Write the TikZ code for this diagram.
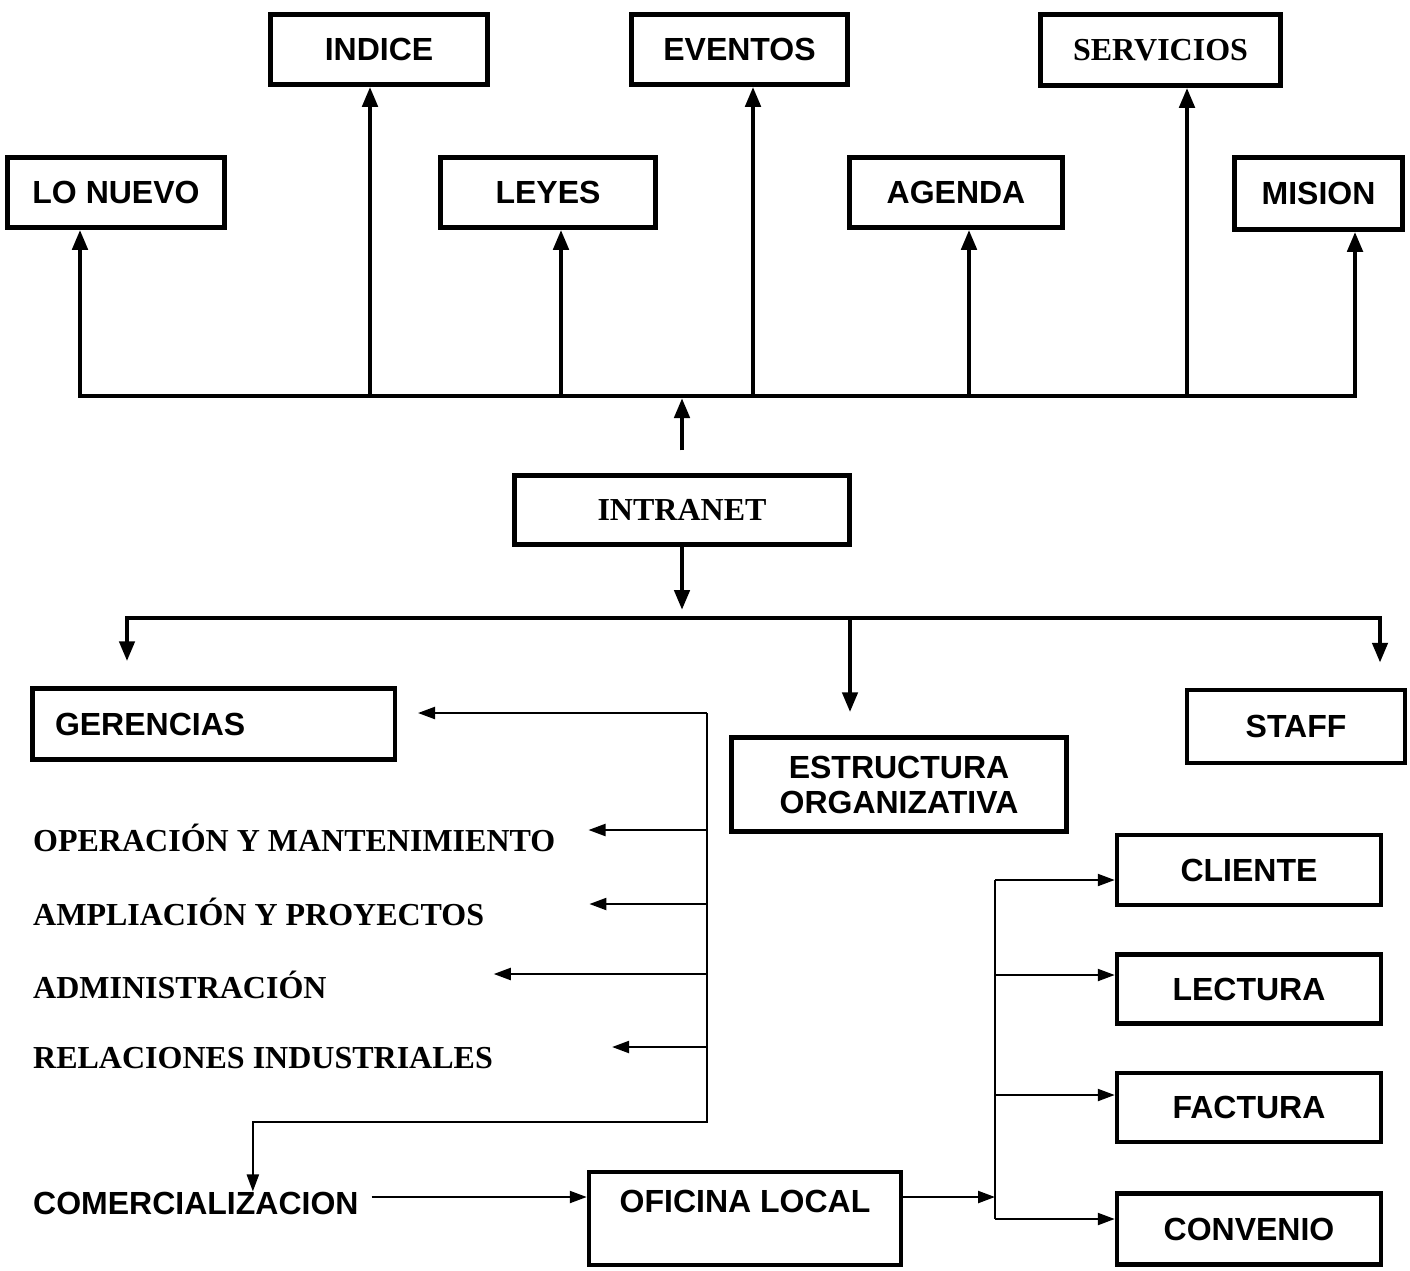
\documentclass[tikz,border=0pt]{standalone}
\usepackage{fontspec}
\setmainfont{Liberation Serif}
\setsansfont{Liberation Sans}
\usepackage{tikz}
\usetikzlibrary{arrows.meta, positioning}

\begin{document}
\begin{tikzpicture}[x=1pt, y=-1pt]
\tikzstyle{box} = [rectangle, draw, line width=4.5pt, inner sep=0pt, align=center, font=\sffamily\bfseries\fontsize{32}{35}\selectfont]
\tikzstyle{rmbox} = [box, font=\rmfamily\bfseries\fontsize{32}{36}\selectfont]
\tikzstyle{item} = [anchor=west, inner sep=0pt, font=\rmfamily\bfseries\fontsize{32}{36}\selectfont]
\tikzstyle{bus} = [line width=4.5pt, line cap=rect]
\tikzstyle{heavy} = [line width=4.5pt, -{Triangle[length=20pt, width=15pt]}]
\tikzstyle{link} = [line width=2.2pt]
\tikzstyle{linkarrow} = [link, -{Triangle[length=17pt, width=12pt]}]

\useasboundingbox (0,0) rectangle (1410,1270);

% upper row
\node (indice) [box, minimum width=217pt, minimum height=70pt] at (379,49.5) {INDICE};
\node (eventos) [box, minimum width=216pt, minimum height=70pt] at (739.5,49.5) {EVENTOS};
\node (servicios) [rmbox, minimum width=240pt, minimum height=71pt] at (1160.5,50) {SERVICIOS};
\node (lonuevo) [box, minimum width=217pt, minimum height=70pt] at (116,192.5) {LO NUEVO};
\node (leyes) [box, minimum width=215pt, minimum height=70pt] at (548,192.5) {LEYES};
\node (agenda) [box, minimum width=213pt, minimum height=70pt] at (956,192.5) {AGENDA};
\node (mision) [box, minimum width=168pt, minimum height=72pt] at (1318.5,193.5) {MISION};

\node (intranet) [rmbox, minimum width=335pt, minimum height=69pt] at (682,510) {INTRANET};

% lower part
\node (gerencias) [box, align=left, text width=317pt, inner xsep=22.75pt, minimum height=71pt] at (213.5,724) {GERENCIAS};
\node (estructura) [box, minimum width=335pt, minimum height=94pt] at (899,784.5) {ESTRUCTURA\\ORGANIZATIVA};
\node (staff) [box, minimum width=218pt, minimum height=73pt] at (1296,726.5) {STAFF};
\node (cliente) [box, minimum width=264pt, minimum height=70pt] at (1249,870) {CLIENTE};
\node (lectura) [box, minimum width=264pt, minimum height=69pt, below=45pt of cliente] {LECTURA};
\node (factura) [box, minimum width=264pt, minimum height=69pt, below=45pt of lectura] {FACTURA};
\node (convenio) [box, minimum width=264pt, minimum height=71pt, below=47pt of factura] {CONVENIO};
\node (oficina) [box, minimum width=312pt, minimum height=93pt, text depth=34pt] at (745,1218.5) {OFICINA LOCAL};

\node (operacion) [item] at (33,838) {OPERACIÓN Y MANTENIMIENTO};
\node (ampliacion) [item] at (33,912) {AMPLIACIÓN Y PROYECTOS};
\node (administracion) [item] at (33,985) {ADMINISTRACIÓN};
\node (relaciones) [item] at (33,1058) {RELACIONES INDUSTRIALES};
\node (comercial) [item, font=\sffamily\bfseries\fontsize{32}{35}\selectfont] at (33,1203) {COMERCIALIZACION};

% intranet to the upper row
\coordinate (topbus) at (682,396);
\draw[bus] ([xshift=-36pt]lonuevo.south |- topbus) -- ([xshift=36.5pt]mision.south |- topbus);
\draw[heavy] ([xshift=-36pt]lonuevo.south |- topbus) -- ([xshift=-36pt]lonuevo.south);
\draw[heavy] ([xshift=-9pt]indice.south |- topbus) -- ([xshift=-9pt]indice.south);
\draw[heavy] ([xshift=13pt]leyes.south |- topbus) -- ([xshift=13pt]leyes.south);
\draw[heavy] ([xshift=13.5pt]eventos.south |- topbus) -- ([xshift=13.5pt]eventos.south);
\draw[heavy] ([xshift=13pt]agenda.south |- topbus) -- ([xshift=13pt]agenda.south);
\draw[heavy] ([xshift=26.5pt]servicios.south |- topbus) -- ([xshift=26.5pt]servicios.south);
\draw[heavy] ([xshift=36.5pt]mision.south |- topbus) -- ([xshift=36.5pt]mision.south);
\draw[heavy, shorten >=2pt] ([yshift=23pt]intranet.north) -- (intranet.north |- topbus);

% intranet to the lower part
\coordinate (lowbus) at (682,618);
\draw[heavy, shorten >=8pt] (intranet.south) -- (intranet.south |- lowbus);
\draw[bus] ([xshift=-86.5pt]gerencias.north |- lowbus) -- ([xshift=84pt]staff.north |- lowbus);
\draw[heavy] ([xshift=-86.5pt]gerencias.north |- lowbus) -- ([xshift=-86.5pt,yshift=25pt]gerencias.north);
\draw[heavy] ([xshift=-49pt]estructura.north |- lowbus) -- ([xshift=-49pt,yshift=23pt]estructura.north);
\draw[heavy] ([xshift=84pt]staff.north |- lowbus) -- ([xshift=84pt,yshift=25pt]staff.north);

% gerencias
\coordinate (gtop) at (707,713);
\coordinate (gbot) at (707,1122);
\draw[linkarrow] (gtop) -- (gbot) -| ([xshift=57pt]comercial.north);
\draw[linkarrow] (gtop) -- ([xshift=21pt]gerencias.east |- gtop);
\draw[linkarrow] (gtop |- operacion.east) ++(0,-8) -- ([xshift=33pt,yshift=8pt]operacion.east);
\draw[linkarrow] (gtop |- ampliacion.east) ++(0,-8) -- ([xshift=105pt,yshift=8pt]ampliacion.east);
\draw[linkarrow] (gtop |- administracion.east) ++(0,-11) -- ([xshift=167pt,yshift=11pt]administracion.east);
\draw[linkarrow] (gtop |- relaciones.east) ++(0,-11) -- ([xshift=119pt,yshift=11pt]relaciones.east);

% comercializacion and oficina local
\coordinate (cstart) at ([xshift=13pt,yshift=6pt]comercial.east);
\draw[linkarrow] (cstart) -- (cstart -| oficina.west);
\coordinate (ojoin) at (995,1197);
\draw[linkarrow] (oficina.east |- ojoin) -- (ojoin);
\coordinate (rcliente) at (995,880);
\coordinate (rlectura) at (995,975);
\coordinate (rfactura) at (995,1095);
\coordinate (rconvenio) at (995,1219);
\draw[link] (rcliente) -- (rconvenio);
\draw[linkarrow] (rcliente) -- (rcliente -| cliente.west);
\draw[linkarrow] (rlectura) -- (rlectura -| lectura.west);
\draw[linkarrow] (rfactura) -- (rfactura -| factura.west);
\draw[linkarrow] (rconvenio) -- (rconvenio -| convenio.west);

\end{tikzpicture}
\end{document}
